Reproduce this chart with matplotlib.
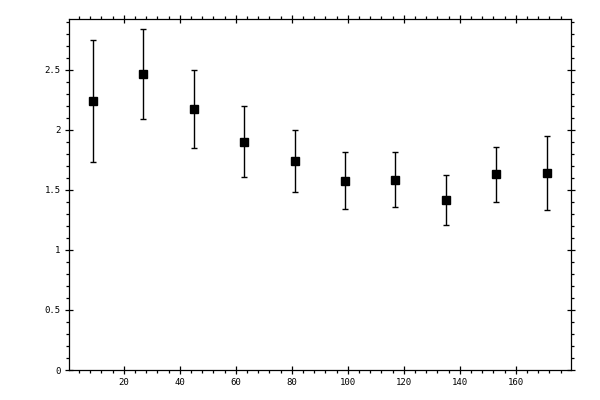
import numpy as np
import matplotlib
matplotlib.use("Agg")
import matplotlib.pyplot as plt
from matplotlib.ticker import MultipleLocator

angle = [9, 27, 45, 63, 81, 99, 117, 135, 153, 171]
value = [2.24, 2.465, 2.175, 1.90, 1.74, 1.575, 1.585, 1.415, 1.63, 1.64]
err = [0.51, 0.373, 0.326, 0.296, 0.26, 0.238, 0.23, 0.21, 0.23, 0.31]

xticks = [20, 40, 60, 80, 100, 120, 140, 160]
yticks = [0, 0.5, 1, 1.5, 2, 2.5]
ylabels = ["0", "0.5", "1", "1.5", "2", "2.5"]

plt.rcParams['font.family'] = ['DejaVu Sans Mono']

fig = plt.figure(figsize=(6, 4), dpi=100)
ax = fig.add_axes([0.115, 0.075, 0.8367, 0.877])

ax.errorbar(angle, value, yerr=err, fmt='s', color='black', ms=5.5,
            elinewidth=1.0, capsize=2, capthick=1.0)

ax.set_xlim(0.45, 179.7)
ax.set_ylim(0, 2.92)
ax.set_xticks(xticks)
ax.set_xticklabels([str(t) for t in xticks])
ax.set_yticks(yticks)
ax.set_yticklabels(ylabels)
ax.xaxis.set_minor_locator(MultipleLocator(4))
ax.yaxis.set_minor_locator(MultipleLocator(0.1))

for s in ax.spines.values():
    s.set_linewidth(0.9)

ax.tick_params(which='major', direction='inout', length=6, width=0.9,
               labelsize=6.5, top=True, right=True, pad=3)
ax.tick_params(which='minor', direction='out', length=2.5, width=0.9,
               top=True, right=True)

fig.savefig("out.png", dpi=100)
